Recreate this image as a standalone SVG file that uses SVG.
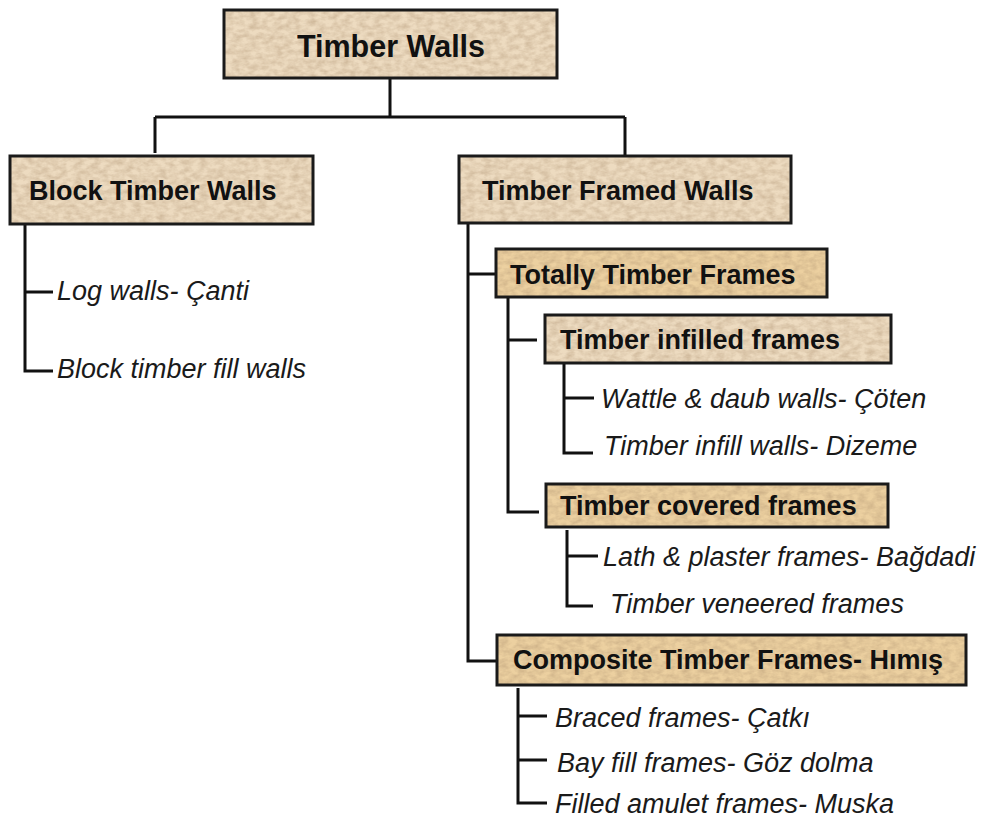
<svg xmlns="http://www.w3.org/2000/svg" width="984" height="825" viewBox="0 0 984 825">
<defs>
<filter id="paper" x="0" y="0" width="100%" height="100%" color-interpolation-filters="sRGB">
<feTurbulence type="fractalNoise" baseFrequency="0.12 0.2" numOctaves="3" seed="7" result="n"/>
<feColorMatrix in="n" type="matrix" values="0 0 0 0 0.66  0 0 0 0 0.55  0 0 0 0 0.42  0 0 0 0.7 -0.22" result="c"/>
<feComposite in="c" in2="SourceGraphic" operator="in" result="t"/>
<feMerge><feMergeNode in="SourceGraphic"/><feMergeNode in="t"/></feMerge>
</filter>
<style>
.bg{filter:url(#paper);}
.pale{fill:#eddbc0;}
.warm{fill:#ecd0a0;}
.frame{fill:none;stroke:#1a1a1a;stroke-width:3;}
.b{font-family:"Liberation Sans",Arial,sans-serif;font-weight:bold;font-size:27px;fill:#111;}
.i{font-family:"Liberation Sans",Arial,sans-serif;font-style:italic;font-size:27px;fill:#1a1a1a;}
.c{fill:none;stroke:#111;stroke-width:3;}
</style>
</defs>
<rect width="984" height="825" fill="#ffffff"/>
<g id="connectors" class="c">
<path d="M390 78V117M155 117H625M155 117V153M625 117V156"/>
<path d="M25 224V371H53M25 292H53"/>
<path d="M468 223V661H497M468 274H496"/>
<path d="M508 297V512H539M508 340H537"/>
<path d="M564 363V453H593M564 398H594"/>
<path d="M567 530V606H593M567 556H598"/>
<path d="M518 688V803H547M518 716H547M518 760H547"/>
</g>
<g id="timber-walls">
<rect class="bg pale" x="224" y="10" width="333" height="68"/>
<rect class="frame" x="224" y="10" width="333" height="68"/>
<text class="b" x="391" y="57" text-anchor="middle" style="font-size:30.5px">Timber Walls</text>
</g>
<g id="block-timber-walls">
<rect class="bg pale" x="10" y="156" width="303" height="68"/>
<rect class="frame" x="10" y="156" width="303" height="68"/>
<text class="b" x="29" y="200">Block Timber Walls</text>
</g>
<g id="log-walls"><text class="i" x="57" y="300">Log walls- Çanti</text></g>
<g id="block-fill"><text class="i" x="57" y="378">Block timber fill walls</text></g>
<g id="timber-framed-walls">
<rect class="bg pale" x="459" y="156" width="332" height="67"/>
<rect class="frame" x="459" y="156" width="332" height="67"/>
<text class="b" x="482" y="200">Timber Framed Walls</text>
</g>
<g id="totally-timber-frames">
<rect class="bg warm" x="496" y="249" width="331" height="48"/>
<rect class="frame" x="496" y="249" width="331" height="48"/>
<text class="b" x="510" y="284">Totally Timber Frames</text>
</g>
<g id="timber-infilled-frames">
<rect class="bg pale" x="545" y="315" width="346" height="48"/>
<rect class="frame" x="545" y="315" width="346" height="48"/>
<text class="b" x="560" y="349">Timber infilled frames</text>
</g>
<g id="wattle"><text class="i" x="601" y="408">Wattle &amp; daub walls- Çöten</text></g>
<g id="infill-walls"><text class="i" x="604" y="455">Timber infill walls- Dizeme</text></g>
<g id="timber-covered-frames">
<rect class="bg warm" x="546" y="484" width="342" height="43"/>
<rect class="frame" x="546" y="484" width="342" height="43"/>
<text class="b" x="560" y="515">Timber covered frames</text>
</g>
<g id="lath"><text class="i" x="603" y="566">Lath &amp; plaster frames- Bağdadi</text></g>
<g id="veneered"><text class="i" x="610" y="613">Timber veneered frames</text></g>
<g id="composite-timber-frames">
<rect class="bg warm" x="497" y="635" width="469" height="50"/>
<rect class="frame" x="497" y="635" width="469" height="50"/>
<text class="b" x="513" y="669">Composite Timber Frames- Hımış</text>
</g>
<g id="braced"><text class="i" x="555" y="727">Braced frames- Çatkı</text></g>
<g id="bay-fill"><text class="i" x="557" y="772">Bay fill frames- Göz dolma</text></g>
<g id="amulet"><text class="i" x="555" y="813">Filled amulet frames- Muska</text></g>
</svg>
